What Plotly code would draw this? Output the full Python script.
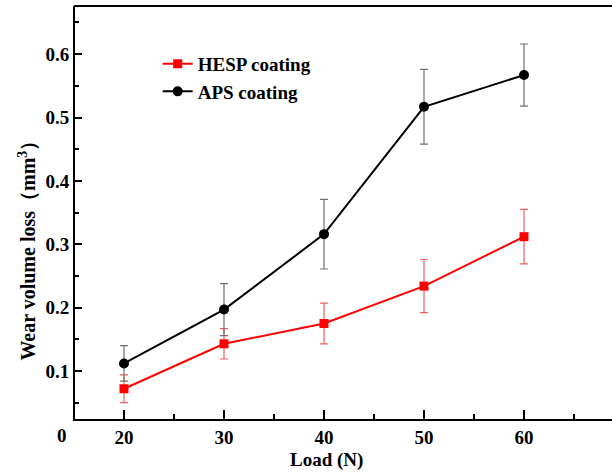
import plotly.graph_objects as go

loads = [20, 30, 40, 50, 60]
hesp = [0.072, 0.143, 0.175, 0.234, 0.312]
hesp_err = [0.022, 0.024, 0.032, 0.042, 0.043]
aps = [0.112, 0.197, 0.316, 0.517, 0.567]
aps_err = [0.028, 0.041, 0.055, 0.059, 0.049]
x_ticks = [20, 30, 40, 50, 60]
y_ticks = [0.1, 0.2, 0.3, 0.4, 0.5, 0.6]

FONT = "Liberation Serif"

fig = go.Figure()
fig.add_trace(go.Scatter(
    x=loads, y=hesp, name="<b>HESP coating</b>", mode="lines+markers",
    line=dict(color="#ff0000", width=2),
    marker=dict(symbol="square", size=9, color="#ff0000"),
    error_y=dict(type="data", array=hesp_err, visible=True, color="#f06060", thickness=1.2, width=4),
))
fig.add_trace(go.Scatter(
    x=loads, y=aps, name="<b>APS coating</b>", mode="lines+markers",
    line=dict(color="#000000", width=2),
    marker=dict(symbol="circle", size=10, color="#000000"),
    error_y=dict(type="data", array=aps_err, visible=True, color="#707070", thickness=1.2, width=4),
))

fig.update_layout(
    width=612, height=474,
    margin=dict(l=75, r=0, t=6, b=55),
    paper_bgcolor="white", plot_bgcolor="white",
    font=dict(family=FONT, size=19, color="black"),
    showlegend=True,
    legend=dict(x=0.154, y=0.906, xanchor="left", yanchor="top",
                bgcolor="rgba(0,0,0,0)", font=dict(family=FONT, size=19, color="black"),
                tracegroupgap=0),
    xaxis=dict(
        range=[15.1, 68.8], tickvals=x_ticks,
        ticktext=[f"<b>{v}</b>" for v in x_ticks],
        ticks="inside", ticklen=9, tickwidth=1.5, tickcolor="black",
        minor=dict(dtick=5, tick0=15, ticks="inside", ticklen=5, tickwidth=1.5,
                   tickcolor="black", showgrid=False),
        showline=True, linecolor="black", linewidth=2, mirror=False,
        showgrid=False, zeroline=False, automargin=False,
        tickfont=dict(family=FONT, size=19, color="black"),
    ),
    yaxis=dict(
        range=[0.0243, 0.676], tickvals=y_ticks,
        ticktext=[f"<b>{v}</b>" for v in y_ticks],
        ticks="inside", ticklen=7, tickwidth=1.5, tickcolor="black",
        minor=dict(dtick=0.05, tick0=0.05, ticks="inside", ticklen=4, tickwidth=1.5,
                   tickcolor="black", showgrid=False),
        showline=True, linecolor="black", linewidth=2, mirror=False,
        showgrid=False, zeroline=False, automargin=False,
        tickfont=dict(family=FONT, size=19, color="black"),
    ),
)

# top frame line (reference frame is open on the right)
fig.add_shape(type="line", xref="paper", yref="paper", x0=-0.002, x1=1.02, y0=1, y1=1,
              line=dict(color="black", width=2), layer="above")

fig.add_annotation(x=-0.09, y=0.419, xref="paper", yref="paper", textangle=-90,
                   text="<b>Wear volume loss\uff08mm<sup>3</sup>\uff09</b>", showarrow=False,
                   xanchor="center", yanchor="middle",
                   font=dict(family=FONT, size=20, color="black"))
fig.add_annotation(x=0.469, y=-0.099, xref="paper", yref="paper",
                   text="<b>Load (N)</b>", showarrow=False,
                   xanchor="center", yanchor="middle",
                   font=dict(family=FONT, size=19, color="black"))
fig.add_annotation(x=-0.024, y=-0.041, xref="paper", yref="paper", text="<b>0</b>",
                   showarrow=False, xanchor="center", yanchor="middle",
                   font=dict(family=FONT, size=19, color="black"))

fig.write_html("out.html", config={"displayModeBar": False},
               post_script="document.body.style.margin='0';document.body.style.overflow='hidden';")
